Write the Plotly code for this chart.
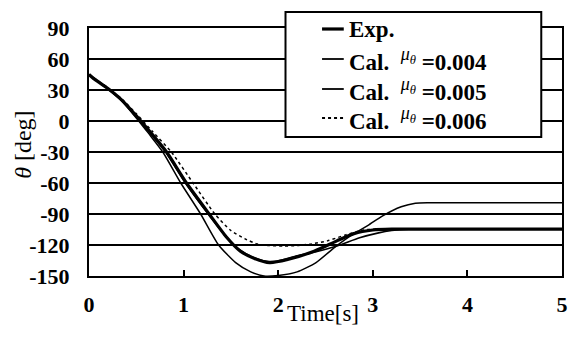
import plotly.graph_objects as go

# Swing angle response: measured vs. calculated for three friction coefficients
t_exp = [0, 0.05, 0.2, 0.35, 0.5, 0.65, 0.82, 1.03, 1.27, 1.45, 1.6, 1.75, 1.91, 2.1, 2.38, 2.62, 2.8, 3.0, 3.2, 5.0]
theta_exp = [45, 41, 31.5, 20, 5, -11, -30, -60, -90, -112, -126, -133, -137, -134, -126, -116, -109, -105.5, -104.7, -104.7]

t_004 = [0, 0.1, 0.2, 0.35, 0.5, 0.63, 0.78, 0.97, 1.18, 1.37, 1.55, 1.71, 1.85, 2.0, 2.2, 2.4, 2.6, 2.8, 2.95, 3.1, 3.3, 3.45, 3.6, 5.0]
theta_004 = [45, 38, 31, 19, 3, -12, -30, -60, -90, -120, -137, -146, -150, -149.5, -146, -137, -122, -109, -101, -92, -83, -79.5, -79, -79]

t_005 = [0, 0.1, 0.2, 0.35, 0.5, 0.65, 0.81, 1.02, 1.26, 1.45, 1.6, 1.75, 1.9, 2.0, 2.2, 2.4, 2.62, 2.86, 3.05, 3.2, 3.38, 5.0]
theta_005 = [45, 38, 31, 19.5, 4, -12, -30, -60, -90, -112, -125, -132.5, -136, -135.5, -130.5, -126.5, -121, -113, -108.5, -106, -104.7, -104.7]

t_006 = [0, 0.1, 0.2, 0.35, 0.5, 0.67, 0.87, 1.1, 1.33, 1.5, 1.65, 1.78, 1.9, 2.05, 2.2, 2.35, 2.52, 2.72, 2.85, 2.95, 3.1, 5.0]
theta_006 = [45, 38.5, 32, 21, 7, -10, -30, -60, -90, -106, -114, -119, -120.5, -121, -120.5, -119, -116, -110, -106.5, -105, -104.7, -104.7]

y_ticks = [90, 60, 30, 0, -30, -60, -90, -120, -150]
y_tick_text = ["90", "60", "30", "0", "-30", "-60", "-90", "-120", "-150"]
x_ticks = [0, 1, 2, 3, 4, 5]
x_tick_text = ["0", "1", "2", "3", "4", "5"]

MU = '<sup><span style="font-size:18px;font-weight:normal"><i>μ<sub>θ</sub></i></span></sup>'
legend_labels = [
    "Exp.",
    f"Cal.  {MU} =0.004",
    f"Cal.  {MU} =0.005",
    f"Cal.  {MU} =0.006",
]

W, H = 574, 340
ML, MR, MT, MB = 89, 6, 28, 64
PW, PH = W - ML - MR, H - MT - MB


def px(x):
    return (x - ML) / PW


def py(y):
    return (H - MB - y) / PH


SERIF = "Liberation Serif"
styles = [
    dict(width=3.2, dash="solid"),
    dict(width=1.5, dash="solid"),
    dict(width=1.6, dash="solid"),
    dict(width=1.5, dash="dot"),
]
series = [(t_exp, theta_exp), (t_004, theta_004), (t_005, theta_005), (t_006, theta_006)]

fig = go.Figure()
for (tt, vv), st, name in zip(series, styles, legend_labels):
    fig.add_trace(go.Scatter(
        x=tt, y=vv, mode="lines", name=name, showlegend=False,
        line=dict(color="black", width=st["width"], dash=st["dash"],
                  shape="spline", smoothing=0.6),
        hoverinfo="skip",
    ))

# Boxed legend in the upper right
shapes = [dict(type="rect", xref="paper", yref="paper",
               x0=px(288), x1=px(547), y0=py(12), y1=py(137),
               line=dict(color="black", width=2), fillcolor="white", layer="above")]
annotations = []
row_y = [29, 59, 89, 118]
for ry, st, name in zip(row_y, styles, legend_labels):
    shapes.append(dict(type="line", xref="paper", yref="paper",
                       x0=px(325), x1=px(347), y0=py(ry), y1=py(ry),
                       line=dict(color="black", width=max(st["width"], 1.8), dash=st["dash"]),
                       layer="above"))
    annotations.append(dict(xref="paper", yref="paper", x=px(350), y=py(ry),
                            xanchor="left", yanchor="middle", showarrow=False,
                            text=name, font=dict(family=SERIF, size=23, color="black", weight="bold")))

annotations.append(dict(xref="paper", yref="paper", x=px(326), y=py(313),
                        xanchor="center", yanchor="middle", showarrow=False,
                        text="Time[s]", font=dict(family=SERIF, size=23, color="black")))
annotations.append(dict(xref="paper", yref="paper", x=px(22), y=py(145),
                        xanchor="center", yanchor="middle", showarrow=False, textangle=-90,
                        text="<i>θ</i> [deg]", font=dict(family=SERIF, size=24, color="black")))

fig.update_layout(
    width=W, height=H,
    margin=dict(l=ML, r=MR, t=MT, b=MB),
    paper_bgcolor="white", plot_bgcolor="white",
    shapes=shapes, annotations=annotations,
    xaxis=dict(range=[0, 5], tickvals=x_ticks, ticktext=x_tick_text,
               ticks="inside", ticklen=6, tickwidth=1.5, tickcolor="black",
               showgrid=False, zeroline=False,
               showline=True, linecolor="black", linewidth=2, mirror=True,
               ticklabelstandoff=8,
               tickfont=dict(family=SERIF, size=22, color="black", weight="bold")),
    yaxis=dict(range=[-150, 90], tickvals=y_ticks, ticktext=y_tick_text,
               ticks="", showgrid=True, gridcolor="black", gridwidth=2,
               zeroline=False, showline=True, linecolor="black", linewidth=2, mirror=True,
               ticklabelstandoff=13,
               tickfont=dict(family=SERIF, size=22, color="black", weight="bold")),
)

fig.write_html("out.html")
